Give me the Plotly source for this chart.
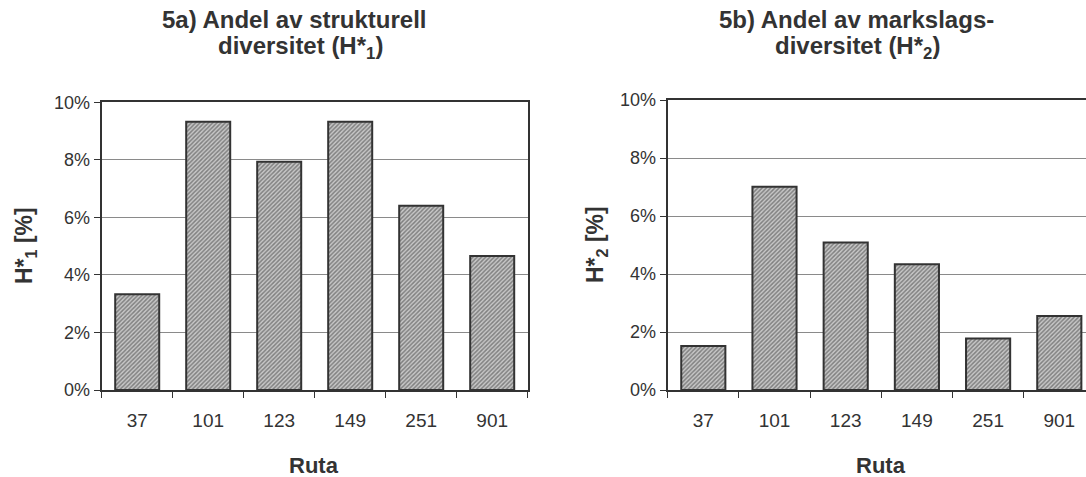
import plotly.graph_objects as go

categories = ["37", "101", "123", "149", "251", "901"]
h1_values = [3.33, 9.32, 7.93, 9.32, 6.40, 4.66]
h2_values = [1.52, 7.01, 5.09, 4.34, 1.78, 2.55]
y_ticks = [0, 2, 4, 6, 8, 10]
y_tick_labels = ["0%", "2%", "4%", "6%", "8%", "10%"]

W, H = 1086, 477
TXT = "#333333"
AX = "#333333"
FONT = "Liberation Sans, Arial, sans-serif"

fig = go.Figure()

pattern = dict(shape="/", fgcolor="#383838", bgcolor="#c8c8c8", size=3, solidity=0.5)

for vals, xa, ya in [(h1_values, "x", "y"), (h2_values, "x2", "y2")]:
    fig.add_trace(go.Bar(
        x=categories, y=vals, xaxis=xa, yaxis=ya,
        marker=dict(color="#c8c8c8", pattern=pattern, line=dict(color=AX, width=2)),
        showlegend=False, hoverinfo="skip",
    ))

def xax(domain, rng, mirror):
    return dict(
        domain=domain, type="category", range=rng,
        showline=True, linecolor=AX, linewidth=2, mirror=mirror,
        ticks="outside", ticklen=6, tickwidth=1, tickcolor=AX,
        tickson="boundaries", showgrid=False, automargin=False,
        ticklabelstandoff=12,
        tickfont=dict(family=FONT, size=19, color=TXT),
        fixedrange=True,
    )

def yax(domain, anchor, mirror):
    return dict(
        domain=domain, anchor=anchor, range=[0, 10],
        tickvals=y_ticks, ticktext=y_tick_labels,
        showline=True, linecolor=AX, linewidth=2, mirror=mirror,
        ticks="outside", ticklen=6, tickwidth=1, tickcolor=AX,
        showgrid=True, gridcolor="#8a8a8a", gridwidth=1,
        zeroline=False, automargin=False,
        tickfont=dict(family=FONT, size=18, color=TXT),
        fixedrange=True,
    )

x1_dom = [101.7 / W, 527.7 / W]
x2_dom = [667.7 / W, 1.0]
span2 = (W - 667.7) / 71.2
fig.update_layout(
    width=W, height=H,
    margin=dict(l=0, r=0, t=0, b=0),
    paper_bgcolor="white", plot_bgcolor="white",
    bargap=0.38,
    xaxis=dict(**xax(x1_dom, [-0.5, 5.5], True), anchor="y"),
    yaxis=yax([(H - 390) / H, (H - 102.3) / H], "x", True),
    xaxis2=dict(**xax(x2_dom, [-0.5, -0.5 + span2], True), anchor="y2"),
    yaxis2=yax([(H - 390) / H, (H - 100) / H], "x2", False),
)

def ann(text, x, y, size, angle=0):
    fig.add_annotation(
        text=text, x=x / W, y=1 - y / H, xref="paper", yref="paper",
        showarrow=False, textangle=angle, xanchor="center", yanchor="middle",
        font=dict(family=FONT, size=size, color=TXT),
    )

ann("<b>5a) Andel av strukturell</b>", 295, 20, 24)
ann("<b>diversitet (H*<sub>1</sub>)</b>", 300, 48, 24)
ann("<b>5b) Andel av markslags-</b>", 856, 20, 24)
ann("<b>diversitet (H*<sub>2</sub>)</b>", 857, 48, 24)
ann("<b>Ruta</b>", 314, 465, 22)
ann("<b>Ruta</b>", 881, 465, 22)
ann("<b>H*<sub>1</sub> [%]</b>", 25, 246, 23, -90)
ann("<b>H*<sub>2</sub> [%]</b>", 597, 245, 23, -90)

fig.write_html(
    "out.html",
    config={"displayModeBar": False, "staticPlot": True},
    post_script="document.body.style.margin='0';document.body.style.overflow='hidden';",
)
